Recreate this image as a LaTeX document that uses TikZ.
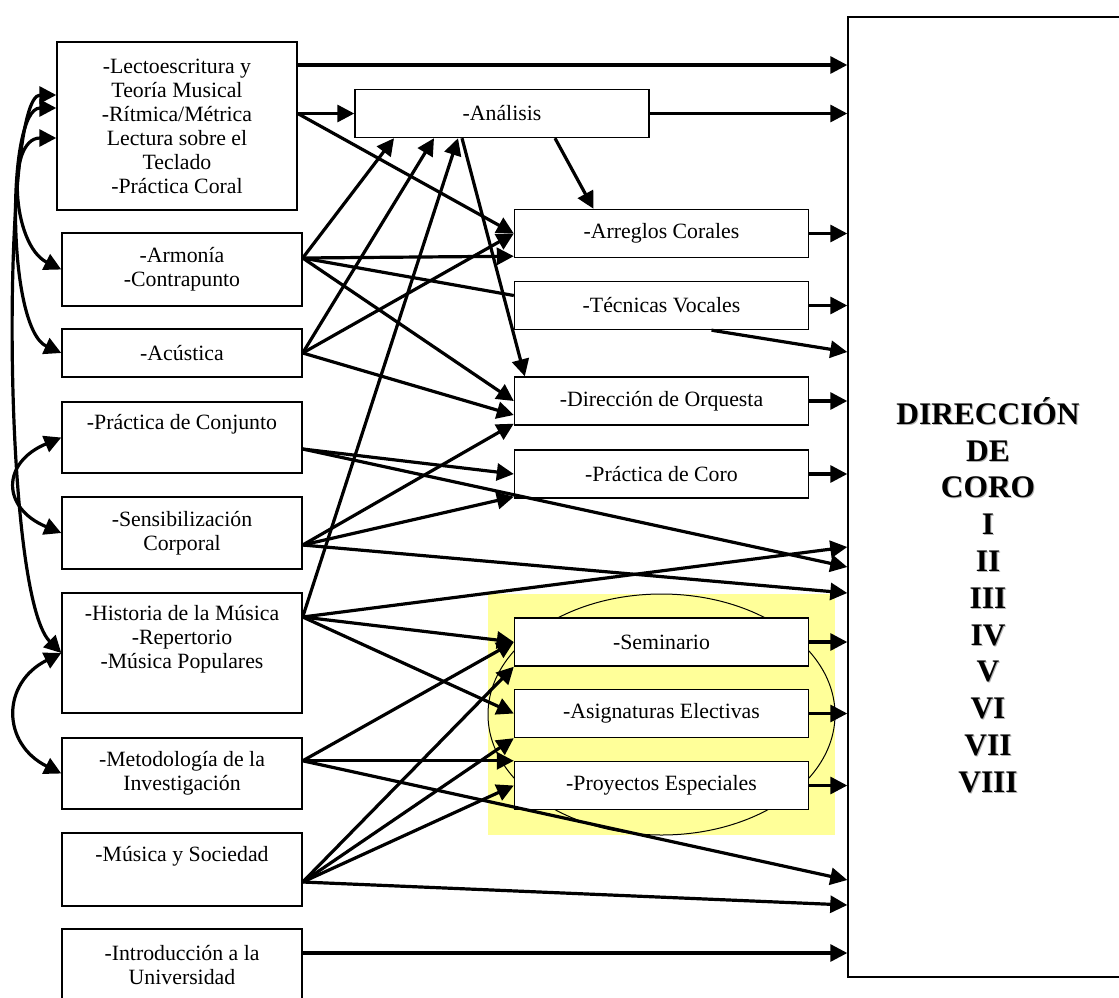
\documentclass[tikz,border=0pt]{standalone}
\usepackage{fontspec}
\setmainfont{Liberation Serif}
\usetikzlibrary{arrows.meta}

\definecolor{amarilloClaro}{RGB}{255,255,153}
\newcommand{\tituloCoro}{DIRECCIÓN\\DE\\CORO\\I\\II\\III\\IV\\V\\VI\\VII\\VIII}

\begin{document}
\begin{tikzpicture}[x=0.5pt,y=-0.5pt,
    materia/.style={draw,line width=0.7pt,fill=white,minimum width=120pt,inner sep=0pt,
      align=center,font=\fontsize{10.9}{12}\selectfont},
    curso/.style={draw,line width=0.7pt,fill=white,minimum width=147pt,minimum height=24pt,
      inner sep=0pt,font=\fontsize{10.9}{12}\selectfont},
    titulo/.style={align=center,font=\fontsize{15.7}{18.4}\selectfont\bfseries},
    linea/.style={line width=1.6pt},
    flecha/.style={line width=1.6pt,-{Triangle[length=8.5pt,width=8.5pt]}},
    doble/.style={line width=1.6pt,{Triangle[length=8.5pt,width=8.5pt]}-{Triangle[length=8.5pt,width=8.5pt]}}]
  \useasboundingbox (0,0) rectangle (1119,997);
  \clip (0,0) rectangle (1119,997);

  \fill[amarilloClaro] (488,594) rectangle (835,835);
  \draw[line width=0.5pt] (661.5,714.5) ellipse [x radius=86.75pt,y radius=60.25pt];

  % columna izquierda
  \node[materia,minimum width=120pt,minimum height=84pt] (lect) at (177,126)
    {-Lectoescritura y\\Teoría Musical\\-Rítmica/Métrica\\Lectura sobre el\\Teclado\\-Práctica Coral};
  \node[materia,minimum height=36.5pt] (armo) at (182,269.5) {-Armonía\\-Contrapunto};
  \node[materia,minimum height=24pt] (acus) at (182,353) {-Acústica};
  \node[materia,minimum height=35.5pt] (conj) at (182,437.5) {-Práctica de Conjunto\\\strut};
  \node[materia,minimum height=36pt] (sens) at (182,533) {-Sensibilización\\Corporal};
  \node[materia,minimum height=60pt] (hist) at (182,653)
    {-Historia de la Música\\-Repertorio\\-Música Populares\\\strut};
  \node[materia,minimum height=35.5pt] (meto) at (182,773.5) {-Metodología de la\\Investigación};
  \node[materia,minimum height=36.5pt] (musi) at (182,869.5) {-Música y Sociedad\\\strut};
  \node[materia,minimum height=36.5pt] (intro) at (182,965.5) {-Introducción a la\\Universidad};

  % columna central
  \node[curso] (anal) at (502,113.5) {-Análisis};
  \node[curso] (arre) at (661.5,233.5) {-Arreglos Corales};
  \node[curso] (tecn) at (661.5,305.5) {-Técnicas Vocales};
  \node[curso] (dire) at (661.5,401) {-Dirección de Orquesta};
  \node[curso] (prac) at (661.5,474) {-Práctica de Coro};
  \node[curso] (semi) at (661.5,642) {-Seminario};
  \node[curso] (asig) at (661.5,713.5) {-Asignaturas Electivas};
  \node[curso] (proy) at (661.5,785.5) {-Proyectos Especiales};

  % asignatura final
  \node[draw,line width=0.7pt,minimum width=140pt,minimum height=480pt] (coro) at (988,497) {};
  \node[titulo,text=gray!60] (tituloSombra) at (989,596) {\tituloCoro};
  \node[titulo] (tituloCoro) at (988,595) {\tituloCoro};

  \coordinate (lectR1) at ([yshift=30.5pt]lect.east);
  \coordinate (lectR2) at (lect.east |- anal.west);
  \coordinate (armoR) at ([yshift=5.75pt]armo.east);
  \coordinate (acusR) at (acus.east);
  \coordinate (conjR) at ([yshift=-5.75pt]conj.east);
  \coordinate (sensR) at ([yshift=-6pt]sens.east);
  \coordinate (histR) at ([yshift=18pt]hist.east);
  \coordinate (metoR) at (meto.east |- proy.north);
  \coordinate (musiR) at ([yshift=-6.25pt]musi.east);
  \coordinate (introR) at ([yshift=6.25pt]intro.east);

  \draw[flecha] (lectR1) -- (lectR1 -| coro.west);
  \draw[flecha] (lectR2) -- (anal.west);
  \draw[flecha] (lectR2) -- (arre.west);
  \draw[flecha] (anal.east) -- (anal.east -| coro.west);
  \draw[flecha] ([xshift=26.5pt]anal.south) -- ([xshift=-34pt]arre.north);
  \draw[flecha] ([xshift=-20pt]anal.south) -- ([xshift=5.5pt]dire.north west);

  \draw[flecha] (armoR) -- ([xshift=-54pt]anal.south);
  \draw[flecha] (armoR) -- ([yshift=1pt]arre.south west);
  \draw[linea] (armoR) -- ([yshift=5pt]tecn.west);
  \draw[flecha] (armoR) -- (dire.west);
  \draw[flecha] (acusR) -- ([xshift=-34pt]anal.south);
  \draw[flecha] (acusR) -- (arre.west);
  \draw[flecha] (acusR) -- ([yshift=-7pt]dire.west);

  \foreach \b in {arre,tecn,dire,prac,semi,asig,proy}
    \draw[flecha] (\b.east) -- (\b.east -| coro.west);
  \draw[flecha] ([xshift=25pt]tecn.south) -- (coro.west |- 0,352);

  \draw[flecha] (conjR) -- (prac.west);
  \draw[flecha] (conjR) -- (coro.west |- 0,567);
  \draw[flecha] (sensR) -- ([yshift=1pt]dire.south west);
  \draw[flecha] (sensR) -- ([yshift=1pt]prac.south west);
  \draw[flecha] (sensR) -- (coro.west |- 0,593);

  \draw[flecha] (histR) -- ([xshift=-22pt]anal.south);
  \draw[flecha] (histR) -- (coro.west |- 0,547);
  \draw[flecha] (histR) -- (semi.west);
  \draw[flecha] (histR) -- (asig.west);

  \draw[flecha] (metoR) -- (semi.west);
  \draw[flecha] (metoR) -- (proy.north west);
  \draw[flecha] (metoR) -- (coro.west |- 0,880);
  \draw[flecha] (musiR) -- (semi.south west);
  \draw[flecha] (musiR) -- (asig.south west);
  \draw[flecha] (musiR) -- (proy.west);
  \draw[flecha] (musiR) -- (coro.west |- 0,905);
  \draw[flecha] (introR) -- (introR -| coro.west);

  % relaciones entre materias
  \draw[doble] ([yshift=15.5pt]lect.west) .. controls +(-55,0) and +(-60,-60) .. (hist.west);
  \draw[doble] ([yshift=9pt]lect.west) .. controls +(-50,0) and +(-55,-25) .. (acus.west);
  \draw[doble] ([yshift=-6pt]lect.west) .. controls +(-50,0) and +(-50,-25) .. (armo.west);
  \draw[doble] (conj.west) .. controls +(-60,25) and +(-60,-25) .. (sens.west);
  \draw[doble] (hist.west) .. controls +(-60,30) and +(-60,-30) .. (meto.west);
\end{tikzpicture}
\end{document}
